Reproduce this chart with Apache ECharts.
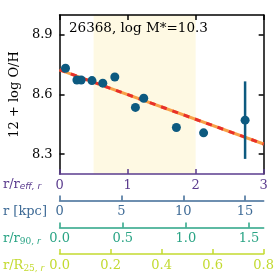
<!DOCTYPE html>
<html><head><meta charset="utf-8">
<script src="https://cdn.jsdelivr.net/npm/echarts@6/dist/echarts.min.js"></script>
<style>html,body{margin:0;padding:0;background:#fff}#c{width:277px;height:277px}</style>
</head><body><div id="c"></div>
<script>
// data
const rEff = [0.087, 0.255, 0.317, 0.476, 0.635, 0.812, 1.115, 1.237, 1.717, 2.117, 2.727];
const oh   = [8.732, 8.673, 8.673, 8.670, 8.657, 8.688, 8.535, 8.581, 8.434, 8.407, 8.471];
const ohErr= [0.01, 0.01, 0.01, 0.01, 0.01, 0.01, 0.01, 0.01, 0.012, 0.01, 0.195];
const fitX = [0, 3];
const fitY = [8.724, 8.351];
const shadeRange = [0.5, 2.0];
const yTicks = [8.3, 8.6, 8.9];
const effTicks = [0, 1, 2, 3];
const kpcTicks = [0, 5, 10, 15];
const r90Ticks = [0, 0.5, 1.0, 1.5];
const r25Ticks = [0, 0.2, 0.4, 0.6, 0.8];
const kpcMax = 16.5, r90Max = 1.616, r25Max = 0.8;
const titleText = '26368, log M*=10.3';

const F = 'DejaVu Serif';
const cPurple = '#5b3c8e', cBlue = '#3f6b96', cTeal = '#2aa485', cLime = '#c3da30';

function bottomAxis(min, max, ticks, color, offset, fmt) {
  return {
    type: 'value', position: 'bottom', offset: offset, min: min, max: max,
    axisLine: {show: true, onZero: false, lineStyle: {color: color, width: 1.5}},
    axisTick: {show: true, inside: true, length: 5, customValues: ticks, lineStyle: {color: color, width: 1.5}},
    axisLabel: {customValues: ticks, color: color, fontFamily: F, fontSize: 13, margin: 5,
      formatter: fmt},
    splitLine: {show: false}
  };
}

const chart = echarts.init(document.getElementById('c'), null, {renderer: 'canvas'});
chart.setOption({
  animation: false,
  grid: {left: 58, top: 15, width: 208, height: 159, containLabel: false},
  xAxis: [
    bottomAxis(0, 3, effTicks, cPurple, 0, v => String(v)),
    bottomAxis(0, kpcMax, kpcTicks, cBlue, 26.5, v => String(v)),
    bottomAxis(0, r90Max, r90Ticks, cTeal, 53.5, v => v.toFixed(1)),
    bottomAxis(0, r25Max, r25Ticks, cLime, 80, v => v.toFixed(1)),
    {type: 'value', position: 'top', min: 0, max: 3,
     axisLine: {show: true, onZero: false, lineStyle: {color: '#000', width: 1.5}},
     axisTick: {show: true, inside: true, length: 5, customValues: effTicks, lineStyle: {color: '#000', width: 1.5}},
     axisLabel: {show: false}, splitLine: {show: false}}
  ],
  yAxis: [
    {type: 'value', min: 8.2, max: 9.0, position: 'left',
     name: '12 + log O/H', nameLocation: 'middle', nameGap: 38, nameRotate: 90,
     nameTextStyle: {fontFamily: F, fontSize: 13, color: '#000'},
     axisLine: {show: true, onZero: false, lineStyle: {color: '#000', width: 1.5}},
     axisTick: {show: true, inside: true, length: 5, customValues: yTicks, lineStyle: {color: '#000', width: 1.5}},
     axisLabel: {customValues: yTicks, color: '#000', fontFamily: F, fontSize: 13, margin: 7,
       formatter: v => v.toFixed(1)},
     splitLine: {show: false}},
    {type: 'value', min: 8.2, max: 9.0, position: 'right',
     axisLine: {show: true, onZero: false, lineStyle: {color: '#000', width: 1.5}},
     axisTick: {show: true, inside: true, length: 5, customValues: yTicks, lineStyle: {color: '#000', width: 1.5}},
     axisLabel: {show: false}, splitLine: {show: false}}
  ],
  graphic: [
    {type: 'text', left: 69, top: 21, z: 100, zlevel: 0, style: {text: titleText, font: '13.5px "DejaVu Serif"', fill: '#000'}},
    {type: 'text', left: 3, top: 178, style: {text: '{a|r/r}{b|eff, r}', rich: {
      a: {fontFamily: F, fontSize: 13, fill: cPurple, verticalAlign: 'bottom'},
      b: {fontFamily: 'DejaVu Sans', fontStyle: 'italic', fontSize: 9, fill: cPurple, padding: [6,0,0,0]}}}},
    {type: 'text', left: 3, top: 205, style: {text: 'r [kpc]', font: '13px "DejaVu Serif"', fill: cBlue}},
    {type: 'text', left: 3, top: 232, style: {text: '{a|r/r}{b|90, }{c|r}', rich: {
      a: {fontFamily: F, fontSize: 13, fill: cTeal},
      b: {fontFamily: F, fontSize: 9, fill: cTeal, padding: [6,0,0,0]},
      c: {fontFamily: 'DejaVu Sans', fontStyle: 'italic', fontSize: 9, fill: cTeal, padding: [6,0,0,0]}}}},
    {type: 'text', left: 3, top: 259, style: {text: '{a|r/R}{b|25, }{c|r}', rich: {
      a: {fontFamily: F, fontSize: 13, fill: cLime},
      b: {fontFamily: F, fontSize: 9, fill: cLime, padding: [6,0,0,0]},
      c: {fontFamily: 'DejaVu Sans', fontStyle: 'italic', fontSize: 9, fill: cLime, padding: [6,0,0,0]}}}}
  ],
  series: [
    {type: 'line', xAxisIndex: 0, yAxisIndex: 0, data: [], silent: true, z: 0,
     markArea: {silent: true, z: 0, itemStyle: {color: '#fef9e3'},
       data: [[{xAxis: shadeRange[0]}, {xAxis: shadeRange[1]}]]}},
    {type: 'line', xAxisIndex: 0, yAxisIndex: 0, symbol: 'none', z: 3,
     data: fitX.map((x, i) => [x, fitY[i]]),
     lineStyle: {color: '#f8a048', width: 3, type: 'solid'}},
    {type: 'line', xAxisIndex: 0, yAxisIndex: 0, symbol: 'none', z: 4,
     data: fitX.map((x, i) => [x, fitY[i]]),
     lineStyle: {color: '#e8302a', width: 3, type: [6, 6]}},
    {type: 'custom', xAxisIndex: 0, yAxisIndex: 0, z: 5,
     data: rEff.map((x, i) => [x, oh[i] - ohErr[i], oh[i] + ohErr[i]]),
     renderItem: function (params, api) {
       const p1 = api.coord([api.value(0), api.value(1)]);
       const p2 = api.coord([api.value(0), api.value(2)]);
       return {type: 'line', shape: {x1: p1[0], y1: p1[1], x2: p2[0], y2: p2[1]},
         style: {stroke: '#0d5a80', lineWidth: 2.5}};
     }},
    {type: 'scatter', xAxisIndex: 0, yAxisIndex: 0, z: 6, symbolSize: 9,
     itemStyle: {color: '#0d5a80', opacity: 1},
     data: rEff.map((x, i) => [x, oh[i]])}
  ]
});
</script></body></html>
